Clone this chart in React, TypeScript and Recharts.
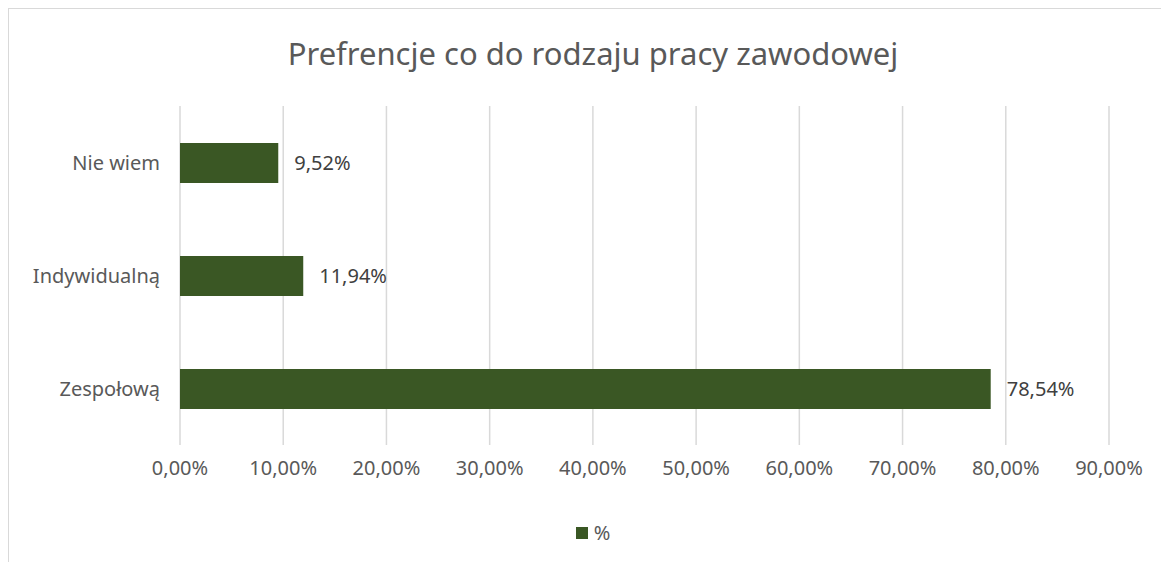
import { BarChart, Bar, XAxis, YAxis, CartesianGrid, LabelList } from "recharts";

const categories = ["Nie wiem", "Indywidualną", "Zespołową"];
const percentValues = [9.52, 11.94, 78.54];
const xTicks = [0, 10, 20, 30, 40, 50, 60, 70, 80, 90];

const data = categories.map((name, i) => ({ name, value: percentValues[i] }));

const FONT = "'Noto Sans', 'Open Sans', sans-serif";
const fmt = (v: number) => v.toFixed(2).replace(".", ",") + "%";

export default function App() {
  return (
    <div
      style={{
        position: "relative",
        width: 1170,
        height: 560,
        border: "1px solid #d9d9d9",
        background: "#fff",
        fontFamily: FONT,
      }}
    >
      <div
        style={{
          position: "absolute",
          top: 24,
          left: 0,
          width: 1168,
          textAlign: "center",
          fontSize: 31,
          color: "#595959",
          lineHeight: "40px",
        }}
      >
        Prefrencje co do rodzaju pracy zawodowej
      </div>
      <BarChart
        width={1160}
        height={500}
        data={data}
        layout="vertical"
        margin={{ top: 97, right: 60, left: 0, bottom: 0 }}
        barSize={40}
      >
        <CartesianGrid horizontal={false} stroke="#d9d9d9" strokeWidth={1.5} />
        <XAxis
          type="number"
          domain={[0, 90]}
          ticks={xTicks}
          tickFormatter={(v: number) => fmt(v)}
          axisLine={false}
          tickLine={false}
          tickMargin={10}
          height={64}
          tick={{ fill: "#595959", fontSize: 20, fontFamily: FONT }}
          interval={0}
        />
        <YAxis
          type="category"
          dataKey="name"
          width={171}
          axisLine={false}
          tickLine={false}
          tickMargin={14}
          tick={{ fill: "#595959", fontSize: 20, fontFamily: FONT }}
        />
        <Bar dataKey="value" fill="#3A5724" isAnimationActive={false}>
          <LabelList
            dataKey="value"
            position="right"
            offset={16}
            formatter={(v: number) => fmt(v)}
            style={{ fill: "#404040", fontSize: 20, fontFamily: FONT }}
          />
        </Bar>
      </BarChart>
      <div
        style={{
          position: "absolute",
          top: 510,
          left: 0,
          width: 1168,
          display: "flex",
          justifyContent: "center",
          alignItems: "center",
          fontSize: 20,
          color: "#595959",
        }}
      >
        <span
          style={{
            display: "inline-block",
            width: 12,
            height: 12,
            background: "#3A5724",
            marginRight: 6,
          }}
        />
        %
      </div>
    </div>
  );
}
